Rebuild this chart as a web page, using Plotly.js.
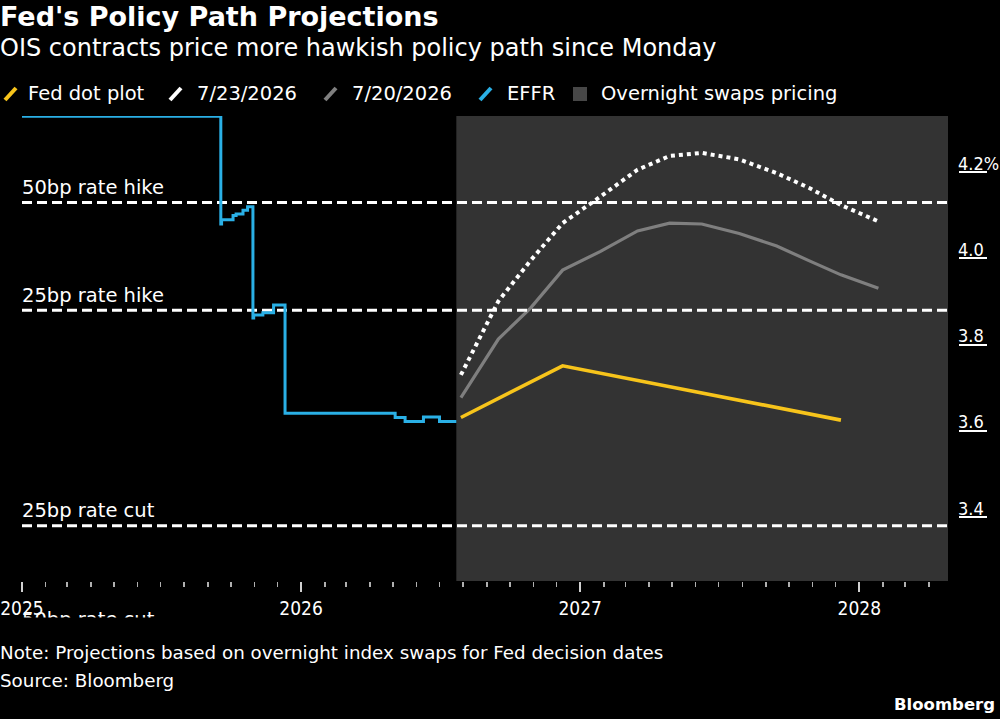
<!DOCTYPE html>
<html>
<head>
<meta charset="utf-8">
<script src="https://cdn.plot.ly/plotly-3.0.1.min.js"></script>
<style>
html,body{margin:0;padding:0;background:#000;}
#chart{width:1000px;height:719px;}
</style>
</head>
<body>
<div id="chart"></div>
<script>
// ---------- data ----------
const effrDates = ['2025-01-01','2025-09-18','2025-09-19','2025-10-04','2025-10-08','2025-10-17','2025-10-23',
  '2025-10-30','2025-10-31','2025-11-12','2025-11-26','2025-12-11','2026-05-04','2026-05-17','2026-06-10','2026-07-01','2026-07-23'];
const effrValues = [4.33,4.08,4.09,4.10,4.103,4.112,4.12,
  3.862,3.869,3.874,3.892,3.641,3.631,3.622,3.632,3.622,3.622];

const fomcDates = ['2026-07-29','2026-09-16','2026-10-28','2026-12-09','2027-01-27','2027-03-17','2027-04-28',
  '2027-06-09','2027-07-28','2027-09-15','2027-10-27','2027-12-08','2028-01-26'];
const ois0723 = [3.730,3.901,3.995,4.082,4.143,4.206,4.238,4.245,4.230,4.198,4.164,4.124,4.086];
const ois0720 = [3.677,3.813,3.885,3.973,4.016,4.064,4.082,4.080,4.058,4.029,3.995,3.962,3.931];

const dotDates = ['2026-07-29','2026-12-09','2027-12-08'];
const dotValues = [3.631,3.751,3.625];

const refLevels = [4.13, 3.88, 3.38, 3.13];
const refLabels = ['50bp rate hike','25bp rate hike','25bp rate cut','50bp rate cut'];

const yTickVals = [3.4, 3.6, 3.8, 4.0, 4.2];
const yTickText = ['3.4','3.6','3.8','4.0','4.2%'];

const xStart = '2025-01-01';
const xEnd = '2028-04-26';
const forecastStart = '2026-07-23';

const legendNames = ['Fed dot plot','7/23/2026','7/20/2026','EFFR','Overnight swaps pricing'];

// ---------- styling ----------
const FONT = '"DejaVu Sans", sans-serif';
const FONT_C = '"DejaVu Sans Condensed", "DejaVu Sans", sans-serif';
const C_YELLOW = '#f7c41b';
const C_WHITE = '#ffffff';
const C_GRAY = '#7f7f7f';
const C_BLUE = '#2ab0e6';
const C_SHADE = '#333333';
const C_SWATCH = '#474747';

// pixel helpers (plot area: x 22..958 paper, y 116..581)
const L = 22, R = 958, T = 116, B = 581;
const px = v => (v - L) / (R - L);
const py = v => (B - v) / (B - T);

const traces = [];
traces.push({x: fomcDates, y: ois0720, type: 'scatter', mode: 'lines',
  line: {color: C_GRAY, width: 3.2}, hoverinfo: 'skip'});
refLevels.forEach(lv => traces.push({x: [xStart, xEnd], y: [lv, lv], type: 'scatter', mode: 'lines',
  line: {color: C_WHITE, width: 3, dash: '10px,5px'}, hoverinfo: 'skip'}));
traces.push({x: effrDates, y: effrValues, type: 'scatter', mode: 'lines',
  line: {color: C_BLUE, width: 3, shape: 'hv'}, hoverinfo: 'skip'});
traces.push({x: fomcDates, y: ois0723, type: 'scatter', mode: 'lines',
  line: {color: C_WHITE, width: 4, dash: '4px,4px'}, hoverinfo: 'skip'});
traces.push({x: dotDates, y: dotValues, type: 'scatter', mode: 'lines',
  line: {color: C_YELLOW, width: 3.6}, hoverinfo: 'skip'});

const annotations = [];
// subtitle
annotations.push({text: 'OIS contracts price more hawkish policy path since Monday', xref: 'paper', yref: 'paper',
  x: px(0), y: py(48), xshift: -2, xanchor: 'left', yanchor: 'middle', showarrow: false,
  font: {family: FONT, size: 24, color: '#ffffff'}});
// legend texts
const legendX = [28, 197, 352, 507, 601];
legendNames.forEach((n, i) => annotations.push({text: n, xref: 'paper', yref: 'paper', x: px(legendX[i]), y: py(94),
  xshift: -2, xanchor: 'left', yanchor: 'middle', showarrow: false, font: {family: FONT, size: 19.5, color: '#ffffff'}}));
// reference line labels
refLabels.forEach((t, i) => {
  const a = {text: t, xref: 'paper', yref: 'y', x: 0, y: refLevels[i], yshift: 15, xshift: -2, xanchor: 'left', yanchor: 'middle',
    showarrow: false, font: {family: FONT, size: 19.5, color: '#ffffff'}};
  if (i === 3) { a.yref = 'paper'; a.y = py(619); a.yshift = 0; }
  annotations.push(a);
});
// mask: the lowest label is cut off below the chart frame, as in the original
annotations.push({text: ' ', xref: 'paper', yref: 'paper', x: px(10), y: py(617), xanchor: 'left', yanchor: 'top',
  width: 180, height: 24, bgcolor: '#000000', showarrow: false, font: {family: FONT, size: 10, color: '#000000'}});
// y tick labels (Bloomberg style: label above a short tick line)
yTickVals.forEach((v, i) => annotations.push({text: yTickText[i], xref: 'paper', yref: 'y', x: 1, y: v, yshift: 9, xshift: -2,
  xanchor: 'left', yanchor: 'middle', showarrow: false, font: {family: FONT_C, size: 18, color: '#ffffff'}}));
// footer
annotations.push({text: 'Note: Projections based on overnight index swaps for Fed decision dates', xref: 'paper', yref: 'paper',
  x: px(0), y: py(652), xshift: -2, xanchor: 'left', yanchor: 'middle', showarrow: false, font: {family: FONT, size: 18.3, color: '#ffffff'}});
annotations.push({text: 'Source: Bloomberg', xref: 'paper', yref: 'paper',
  x: px(0), y: py(680), xshift: -2, xanchor: 'left', yanchor: 'middle', showarrow: false, font: {family: FONT, size: 18.3, color: '#ffffff'}});
annotations.push({text: '<b>Bloomberg</b>', xref: 'paper', yref: 'paper',
  x: px(997), y: py(704), xanchor: 'right', yanchor: 'middle', showarrow: false, font: {family: FONT, size: 16.5, color: '#ffffff'}});

const shapes = [];
shapes.push({type: 'rect', xref: 'x', yref: 'paper', x0: forecastStart, x1: xEnd, y0: 0, y1: 1,
  fillcolor: C_SHADE, line: {width: 0}, layer: 'below'});
// legend swatches
const swColors = [C_YELLOW, C_WHITE, C_GRAY, C_BLUE];
const swX = [5, 170, 325, 480];
swColors.forEach((c, i) => shapes.push({type: 'line', xref: 'paper', yref: 'paper',
  x0: px(swX[i]), y0: py(100), x1: px(swX[i] + 11), y1: py(88), line: {color: c, width: 4}}));
shapes.push({type: 'rect', xref: 'paper', yref: 'paper', x0: px(573), x1: px(587), y0: py(101), y1: py(87),
  fillcolor: C_SWATCH, line: {width: 0}});

const layout = {
  width: 1000, height: 719,
  paper_bgcolor: '#000000', plot_bgcolor: '#000000',
  margin: {l: L, r: 1000 - R, t: T, b: 719 - B, pad: 0},
  showlegend: false,
  title: {text: "<b>Fed's Policy Path Projections</b>", x: 0, xref: 'container', xanchor: 'left',
    y: 1 - 17 / 719, yref: 'container', yanchor: 'middle', pad: {l: 0, t: 0, r: 0, b: 0},
    font: {family: FONT, size: 27, color: '#ffffff'}},
  xaxis: {type: 'date', range: [xStart, xEnd], domain: [0, (948 - L) / (R - L)], anchor: 'free', position: 0,
    showgrid: false, zeroline: false, showline: false,
    tick0: '2025-01-01', dtick: 'M12', tickformat: '%Y', ticks: 'outside', ticklen: 10, tickwidth: 2, tickcolor: '#d0d0d0',
    tickfont: {family: FONT_C, size: 19, color: '#ffffff'},
    minor: {dtick: 'M1', tick0: '2025-01-01', ticks: 'outside', ticklen: 5, tickwidth: 1.5, tickcolor: '#b0b0b0', showgrid: false}},
  yaxis: {range: [3.2517, 4.3306], anchor: 'free', position: 1, side: 'right', showgrid: false, zeroline: false, showline: false,
    tickvals: yTickVals, ticks: 'outside', ticklen: 28, tickwidth: 2, tickcolor: '#ffffff', showticklabels: false},
  shapes: shapes,
  annotations: annotations
};

Plotly.newPlot('chart', traces, layout, {staticPlot: true, displayModeBar: false});
</script>
</body>
</html>
